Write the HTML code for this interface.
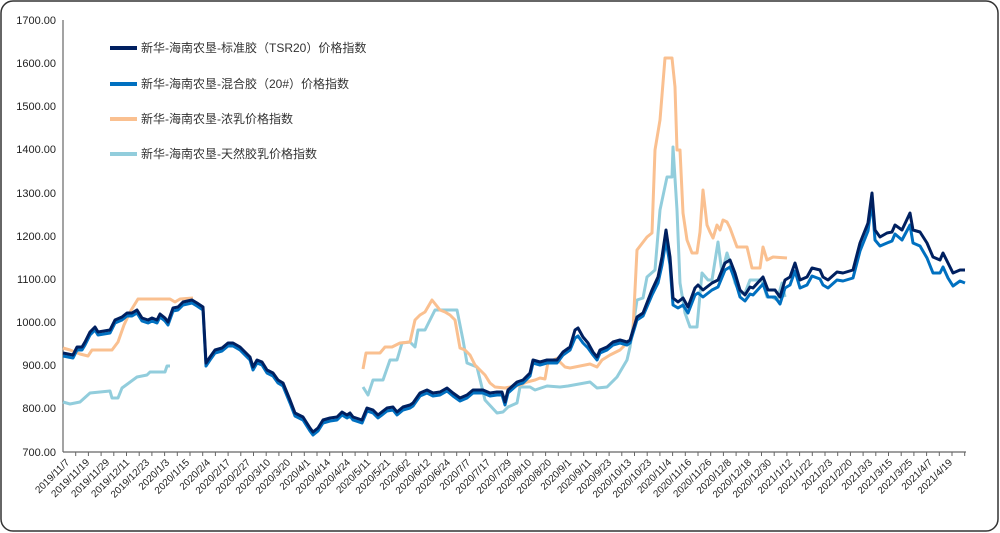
<!DOCTYPE html>
<html><head><meta charset="utf-8"><style>
html,body{margin:0;padding:0;background:#fff;}
svg{display:block;}
text{font-family:"Liberation Sans","Noto Sans CJK SC",sans-serif;}
</style></head><body>
<svg width="1000" height="533" viewBox="0 0 1000 533" xmlns="http://www.w3.org/2000/svg">
<rect x="1" y="1" width="997" height="530" rx="12" ry="12" fill="#fff" stroke="#333" stroke-width="1.5"/>
<g font-size="11" fill="#222" text-anchor="end">
<text x="56" y="24">1700.00</text>
<text x="56" y="67">1600.00</text>
<text x="56" y="110">1500.00</text>
<text x="56" y="153">1400.00</text>
<text x="56" y="197">1300.00</text>
<text x="56" y="240">1200.00</text>
<text x="56" y="283">1100.00</text>
<text x="56" y="326">1000.00</text>
<text x="56" y="369">900.00</text>
<text x="56" y="412">800.00</text>
<text x="56" y="456">700.00</text>
</g>
<line x1="63" y1="20" x2="63" y2="452" stroke="#666" stroke-width="1.2"/>
<line x1="63" y1="452" x2="966" y2="452" stroke="#666" stroke-width="1.2"/>
<path id="ticks" stroke="#666" stroke-width="1" d="
M75.7 452v4M88.4 452v4M101.1 452v4M113.8 452v4M126.5 452v4M139.2 452v4M151.9 452v4M164.6 452v4M177.3 452v4M190 452v4M202.7 452v4M215.4 452v4M228.1 452v4M240.8 452v4M253.5 452v4M266.2 452v4M278.9 452v4M291.6 452v4M304.3 452v4M317 452v4M329.7 452v4M342.4 452v4M355.1 452v4M367.8 452v4M380.5 452v4M393.2 452v4M405.9 452v4M418.6 452v4M431.3 452v4M444 452v4M456.7 452v4M469.4 452v4M482.1 452v4M494.8 452v4M507.5 452v4M520.2 452v4M532.9 452v4M545.6 452v4M558.3 452v4M571 452v4M583.7 452v4M596.4 452v4M609.1 452v4M621.8 452v4M634.5 452v4M647.2 452v4M659.9 452v4M672.6 452v4M685.3 452v4M698 452v4M710.7 452v4M723.4 452v4M736.1 452v4M748.8 452v4M761.5 452v4M774.2 452v4M786.9 452v4M799.6 452v4M812.3 452v4M825 452v4M837.7 452v4M850.4 452v4M863.1 452v4M875.8 452v4M888.5 452v4M901.2 452v4M913.9 452v4M926.6 452v4M939.3 452v4M952 452v4M964.7 452v4"/>
<g font-size="10" fill="#222" text-anchor="end">
<text transform="translate(70,463) rotate(-45)">2019/11/7</text>
<text transform="translate(90,463) rotate(-45)">2019/11/19</text>
<text transform="translate(110,463) rotate(-45)">2019/11/29</text>
<text transform="translate(130,463) rotate(-45)">2019/12/11</text>
<text transform="translate(150,463) rotate(-45)">2019/12/23</text>
<text transform="translate(170,463) rotate(-45)">2020/1/3</text>
<text transform="translate(190,463) rotate(-45)">2020/1/15</text>
<text transform="translate(211,463) rotate(-45)">2020/2/4</text>
<text transform="translate(231,463) rotate(-45)">2020/2/17</text>
<text transform="translate(251,463) rotate(-45)">2020/2/27</text>
<text transform="translate(271,463) rotate(-45)">2020/3/10</text>
<text transform="translate(291,463) rotate(-45)">2020/3/20</text>
<text transform="translate(311,463) rotate(-45)">2020/4/1</text>
<text transform="translate(331,463) rotate(-45)">2020/4/14</text>
<text transform="translate(351,463) rotate(-45)">2020/4/24</text>
<text transform="translate(371,463) rotate(-45)">2020/5/11</text>
<text transform="translate(391,463) rotate(-45)">2020/5/21</text>
<text transform="translate(411,463) rotate(-45)">2020/6/2</text>
<text transform="translate(431,463) rotate(-45)">2020/6/12</text>
<text transform="translate(451,463) rotate(-45)">2020/6/24</text>
<text transform="translate(471,463) rotate(-45)">2020/7/7</text>
<text transform="translate(491,463) rotate(-45)">2020/7/17</text>
<text transform="translate(512,463) rotate(-45)">2020/7/29</text>
<text transform="translate(532,463) rotate(-45)">2020/8/10</text>
<text transform="translate(552,463) rotate(-45)">2020/8/20</text>
<text transform="translate(572,463) rotate(-45)">2020/9/1</text>
<text transform="translate(592,463) rotate(-45)">2020/9/11</text>
<text transform="translate(612,463) rotate(-45)">2020/9/23</text>
<text transform="translate(632,463) rotate(-45)">2020/10/13</text>
<text transform="translate(652,463) rotate(-45)">2020/10/23</text>
<text transform="translate(672,463) rotate(-45)">2020/11/4</text>
<text transform="translate(692,463) rotate(-45)">2020/11/16</text>
<text transform="translate(712,463) rotate(-45)">2020/11/26</text>
<text transform="translate(732,463) rotate(-45)">2020/12/8</text>
<text transform="translate(752,463) rotate(-45)">2020/12/18</text>
<text transform="translate(772,463) rotate(-45)">2020/12/30</text>
<text transform="translate(793,463) rotate(-45)">2021/1/12</text>
<text transform="translate(813,463) rotate(-45)">2021/1/22</text>
<text transform="translate(833,463) rotate(-45)">2021/2/3</text>
<text transform="translate(853,463) rotate(-45)">2021/2/20</text>
<text transform="translate(873,463) rotate(-45)">2021/3/3</text>
<text transform="translate(893,463) rotate(-45)">2021/3/15</text>
<text transform="translate(913,463) rotate(-45)">2021/3/25</text>
<text transform="translate(933,463) rotate(-45)">2021/4/7</text>
<text transform="translate(953,463) rotate(-45)">2021/4/19</text>
</g>
<g fill="none" stroke-width="3" stroke-linejoin="round">
<!-- light blue -->
<polyline stroke="#92CDDC" points="63,402 70,404 80,402 90,393 110,391 112,398 118,398 122,388 137,377 147,375 150,372 165,372 167,366 170,366"/>
<polyline stroke="#92CDDC" points="363,387 368,395 373,380 383,380 390,360 397,360 402,343 410,342 415,347 418,330 425,330 435,310 457,310 463,340 467,363 477,367 485,400 497,413 503,412 508,407 517,403 520,387 530,387 535,390 547,386 560,387 568,386 590,382 597,388 607,387 617,377 627,360 630,347 637,300 643,298 647,277 655,270 660,210 667,177 672,177 673,147 677,210 680,283 685,313 690,327 697,327 702,273 708,280 712,280 718,242 722,273 727,253 730,263 735,283 740,293 745,293 750,280 760,280 763,283 767,297 772,297 777,300 782,283 785,297"/>
<!-- orange -->
<polyline stroke="#FAC090" points="63,348 70,350 80,354 88,356 92,350 98,350 112,350 118,342 124,325 130,312 138,299 170,299 175,302 180,299 193,298"/>
<polyline stroke="#FAC090" points="363,369 366,353 380,353 385,347 392,347 400,343 410,342 415,320 420,315 425,312 432,300 436,305 440,310 445,312 450,315 455,320 460,348 465,350 470,355 475,365 480,370 485,375 490,383 495,387 505,388 515,386 520,385 527,382 535,380 540,378 545,379 548,362 553,360 558,358 560,362 565,367 570,368 580,366 590,364 597,367 602,360 610,355 620,350 625,345 630,342 633,330 637,250 647,237 652,233 655,150 660,120 665,58 672,58 675,87 677,150 680,150 683,213 687,240 692,253 697,253 700,232 703,190 707,225 710,232 713,238 717,225 720,230 723,220 727,222 730,228 737,247 747,247 752,268 760,268 763,247 767,260 773,257 787,258"/>
<!-- blue 20# -->
<polyline stroke="#0070C0" transform="translate(0,3)" points="63,353 73,355 77,347 82,347 85,342 90,332 95,327 98,332 110,330 115,320 122,317 127,313 132,313 137,310 142,318 148,320 152,318 157,320 160,314 165,318 168,322 173,308 178,307 183,302 192,300 197,303 203,307 206,363 210,357 215,350 222,348 228,343 233,343 240,347 245,352 250,357 253,367 257,360 262,362 267,370 273,373 278,380 283,383 290,400 295,413 303,417 310,428 313,432 318,428 323,420 330,418 337,417 342,412 347,415 350,413 353,417 362,420 367,408 373,410 378,415 387,408 393,407 397,412 403,407 410,405 413,403 420,393 427,390 433,393 440,392 447,388 453,393 460,398 467,395 473,390 483,390 490,393 497,392 502,392 505,402 508,390 517,382 523,380 530,373 533,360 540,362 547,360 557,360 563,352 570,347 575,335 578,333 583,340 588,345 593,352 597,357 600,350 607,347 613,342 620,340 627,342 630,340 637,317 643,313 652,292 658,280 662,262 666,237 670,262 673,302 678,305 683,302 688,310 695,292 698,290 703,294 712,287 718,284 725,267 730,264 735,277 740,294 745,298 750,291 753,292 763,281 768,294 775,294 780,301 785,285 790,282 795,268 800,285 807,282 812,273 820,276 823,282 828,285 837,277 843,278 853,275 860,248 868,228 872,198 875,237 880,243 887,240 892,238 895,231 902,237 910,222 913,240 920,243 927,255 933,270 940,270 943,264 948,275 953,283 960,278 965,280"/>
<!-- navy TSR20 -->
<polyline stroke="#002060" points="63,353 73,355 77,347 82,347 85,342 90,332 95,327 98,332 110,330 115,320 122,317 127,313 132,313 137,310 142,318 148,320 152,318 157,320 160,314 165,318 168,322 173,308 178,307 183,302 192,300 197,303 203,307 206,363 210,357 215,350 222,348 228,343 233,343 240,347 245,352 250,357 253,367 257,360 262,362 267,370 273,373 278,380 283,383 290,400 295,413 303,417 310,428 313,432 318,428 323,420 330,418 337,417 342,412 347,415 350,413 353,417 362,420 367,408 373,410 378,415 387,408 393,407 397,412 403,407 410,405 413,403 420,393 427,390 433,393 440,392 447,388 453,393 460,398 467,395 473,390 483,390 490,393 497,392 502,392 505,402 508,390 517,382 523,380 530,373 533,360 540,362 547,360 557,360 563,352 570,347 575,330 578,328 583,337 588,343 593,352 597,357 600,350 607,347 613,342 620,340 627,342 630,340 637,317 643,313 652,290 658,277 662,257 666,230 670,257 673,298 678,302 683,298 688,307 695,288 698,285 703,290 712,283 718,280 725,263 730,260 735,273 740,290 745,295 750,287 753,288 763,277 768,290 775,290 780,297 785,280 790,277 795,263 800,280 807,277 812,268 820,270 823,277 828,280 837,272 843,273 853,270 860,243 868,223 872,193 875,230 880,237 887,233 892,232 895,225 902,230 910,213 913,230 920,232 927,243 933,257 940,260 943,253 948,263 953,273 960,270 965,270"/>
</g>
<g stroke-width="4">
<line x1="110" y1="48" x2="137" y2="48" stroke="#002060"/>
<line x1="110" y1="84" x2="137" y2="84" stroke="#0070C0"/>
<line x1="110" y1="119" x2="137" y2="119" stroke="#FAC090"/>
<line x1="110" y1="154" x2="137" y2="154" stroke="#92CDDC"/>
</g>
<g font-size="12" fill="#333">
<text x="141" y="52">新华-海南农垦-标准胶（TSR20）价格指数</text>
<text x="141" y="88">新华-海南农垦-混合胶（20#）价格指数</text>
<text x="141" y="123">新华-海南农垦-浓乳价格指数</text>
<text x="141" y="158">新华-海南农垦-天然胶乳价格指数</text>
</g>
</svg>
</body></html>
